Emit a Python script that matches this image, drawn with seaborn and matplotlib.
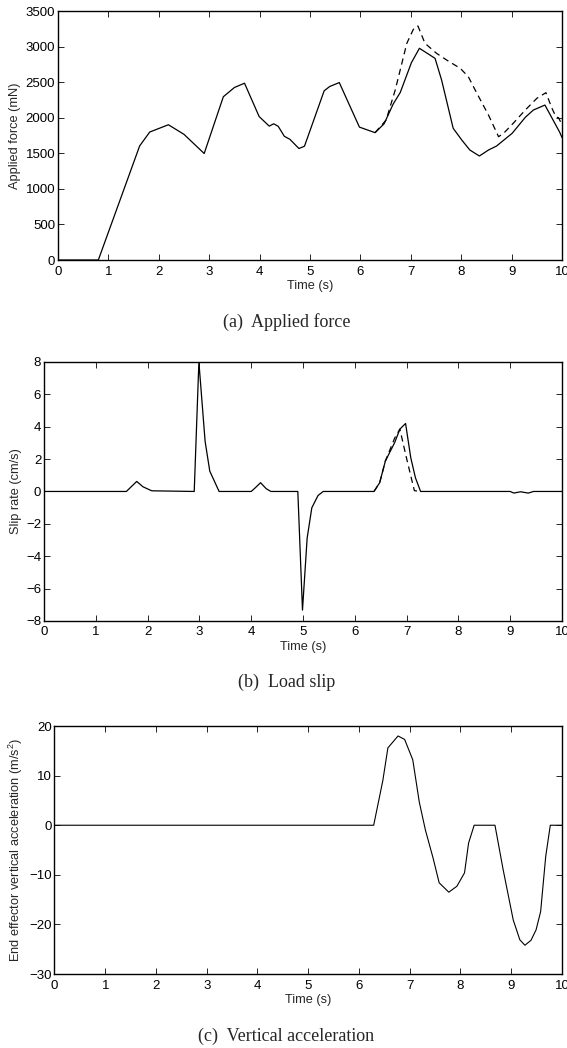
import numpy as np
import pandas as pd
import matplotlib
matplotlib.use("Agg")
import matplotlib.pyplot as plt
import seaborn as sns

# ---- data ----
# (a) applied force, mN
force_t = [0.0, 0.80, 1.62, 1.82, 2.19, 2.50, 2.90, 3.28, 3.50, 3.70, 3.99, 4.19, 4.28,
           4.37, 4.49, 4.60, 4.78, 4.89, 5.28, 5.39, 5.58, 5.98, 6.29, 6.47, 6.65, 6.79,
           7.01, 7.17, 7.48, 7.61, 7.84, 8.01, 8.17, 8.36, 8.54, 8.70, 9.01, 9.27, 9.43,
           9.66, 9.95, 10.0]
force_meas = [0, 0, 1604, 1799, 1901, 1766, 1497, 2295, 2425, 2485, 2017, 1882, 1915,
              1878, 1739, 1697, 1567, 1600, 2378, 2439, 2494, 1868, 1790, 1915, 2193, 2355,
              2772, 2976, 2835, 2530, 1851, 1687, 1546, 1462, 1546, 1602, 1781, 2005, 2108,
              2178, 1800, 1720]
force_t2 = [6.29, 6.51, 6.69, 6.92, 7.05, 7.14, 7.28, 7.51, 7.71, 7.98, 8.14, 8.31, 8.54,
            8.74, 8.84, 9.03, 9.27, 9.50, 9.68, 9.80, 9.88, 9.93, 10.0]
force_model = [1790, 1968, 2390, 3046, 3243, 3290, 3046, 2905, 2811, 2694, 2577, 2343, 2038,
               1733, 1781, 1921, 2108, 2273, 2352, 2132, 2010, 2000, 1900]

# (b) slip rate, cm/s
slip_t = [0.0, 1.59, 1.79, 1.91, 2.08, 2.90, 2.99, 3.11, 3.20, 3.38, 4.00, 4.08, 4.18,
          4.29, 4.38, 4.90, 4.99, 5.08, 5.17, 5.29, 5.39, 6.37, 6.48, 6.59, 6.77, 6.87,
          6.98, 7.08, 7.17, 7.27, 9.00, 9.07, 9.20, 9.35, 9.45, 10.0]
slip_meas = [0, 0, 0.62, 0.29, 0.04, 0, 8.0, 3.1, 1.26, 0, 0, 0.23, 0.54,
             0.17, 0, 0, -7.33, -2.88, -1.01, -0.25, 0, 0, 0.54, 1.88, 3.02, 3.85,
             4.2, 2.09, 0.85, 0, 0, -0.1, -0.02, -0.1, 0, 0]
slip_t2 = [6.37, 6.48, 6.59, 6.77, 6.87, 7.01, 7.15, 7.27]
slip_model = [0, 0.54, 1.88, 3.3, 3.85, 1.9, 0.05, 0]

# (c) end effector vertical acceleration, m/s^2
acc_t = [0.0, 6.29, 6.47, 6.57, 6.77, 6.90, 7.06, 7.19, 7.31, 7.46, 7.58, 7.77, 7.93,
         8.08, 8.16, 8.27, 8.68, 8.84, 9.04, 9.17, 9.27, 9.39, 9.49, 9.58, 9.68, 9.77, 10.0]
acc = [0, 0, 9.0, 15.6, 18.0, 17.3, 13.2, 4.6, -1.0, -6.6, -11.6, -13.5, -12.3,
       -9.6, -3.6, 0, 0, -8.9, -19.1, -23.1, -24.2, -23.2, -21.1, -17.4, -6.3, 0, 0]

captions = ["(a)  Applied force", "(b)  Load slip", "(c)  Vertical acceleration"]

# ---- style ----
sns.set_style("ticks")
plt.rcParams["font.family"] = ["Liberation Sans", "DejaVu Sans"]
plt.rcParams["mathtext.default"] = "regular"
plt.rcParams["xtick.direction"] = "in"
plt.rcParams["ytick.direction"] = "in"
plt.rcParams["xtick.top"] = True
plt.rcParams["ytick.right"] = True
plt.rcParams["xtick.major.size"] = 4
plt.rcParams["ytick.major.size"] = 4
plt.rcParams["xtick.major.width"] = 0.6
plt.rcParams["ytick.major.width"] = 0.6
plt.rcParams["xtick.major.pad"] = 4
plt.rcParams["ytick.major.pad"] = 2
plt.rcParams["xtick.labelsize"] = 9.5
plt.rcParams["ytick.labelsize"] = 9.5
plt.rcParams["axes.labelsize"] = 9.2
plt.rcParams["axes.edgecolor"] = "black"
plt.rcParams["axes.linewidth"] = 1.0
plt.rcParams["xtick.color"] = "black"
plt.rcParams["ytick.color"] = "black"

fig = plt.figure(figsize=(5.67, 10.48), dpi=100)
ax1 = fig.add_axes([0.1023, 0.7519, 0.889, 0.2376])
ax2 = fig.add_axes([0.0776, 0.4075, 0.9136, 0.2471])
ax3 = fig.add_axes([0.0961, 0.0706, 0.895, 0.2366])

lw = 0.9
dash = (5, 3.5)

# (a)
sns.lineplot(x=force_t, y=force_meas, ax=ax1, color="black", lw=lw)
sns.lineplot(x=force_t2, y=force_model, ax=ax1, color="black", lw=lw, dashes=False,
             linestyle=(0, dash))
ax1.set_xlim(0, 10)
ax1.set_ylim(0, 3500)
ax1.set_yticks(np.arange(0, 3501, 500))
ax1.set_ylabel("Applied force (mN)", labelpad=3)

# (b)
sns.lineplot(x=slip_t, y=slip_meas, ax=ax2, color="black", lw=lw)
sns.lineplot(x=slip_t2, y=slip_model, ax=ax2, color="black", lw=lw, dashes=False,
             linestyle=(0, dash))
ax2.set_xlim(0, 10)
ax2.set_ylim(-8, 8)
ax2.set_yticks(np.arange(-8, 9, 2))
ax2.set_ylabel("Slip rate (cm/s)", labelpad=3)

# (c)
sns.lineplot(x=acc_t, y=acc, ax=ax3, color="black", lw=0.8)
ax3.set_xlim(0, 10)
ax3.set_ylim(-30, 20)
ax3.set_yticks(np.arange(-30, 21, 10))
ax3.set_ylabel("End effector vertical acceleration (m/s$^2$)", labelpad=3)

for ax in (ax1, ax2, ax3):
    ax.set_xticks(np.arange(0, 11, 1))
    ax.set_xlabel("Time (s)", labelpad=2)
    for s in ax.spines.values():
        s.set_visible(True)

cap_y = [0.6927, 0.3492, 0.0115]
for cap, y in zip(captions, cap_y):
    fig.text(0.505, y, cap, ha="center", va="center", fontsize=13,
             family=["Liberation Serif", "DejaVu Serif"])

fig.savefig("out.png", dpi=100)
